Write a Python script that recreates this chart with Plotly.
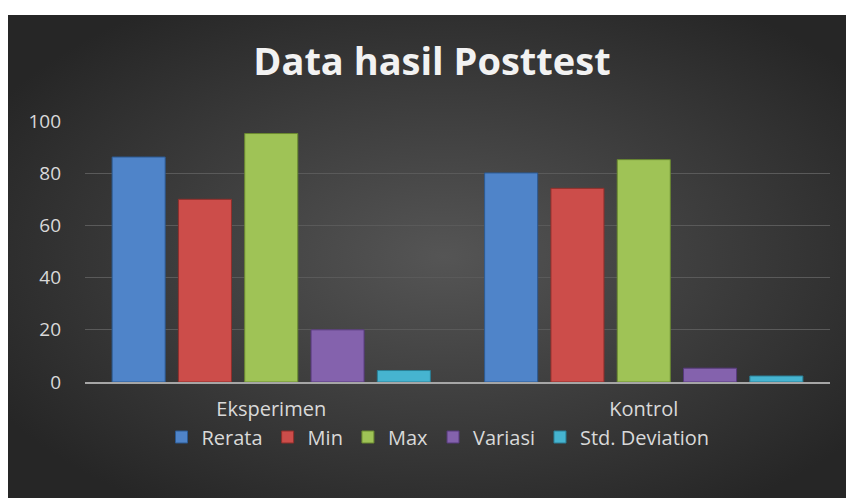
import base64
import plotly.graph_objects as go

categories = ["Eksperimen", "Kontrol"]
series_names = ["Rerata", "Min", "Max", "Variasi", "Std. Deviation"]
rerata = [86.2, 80.1]
min_vals = [70.0, 74.2]
max_vals = [95.2, 85.2]
variasi = [20.0, 5.3]
std_dev = [4.4, 2.3]
series_values = [rerata, min_vals, max_vals, variasi, std_dev]
colors = ["#4f84c9", "#cc4d4a", "#9fc356", "#8462ad", "#46b4d0"]
edge_colors = ["#2c5a92", "#8e2f2b", "#6a8a30", "#573a7c", "#2a7f96"]
y_ticks = [0, 20, 40, 60, 80, 100]

W, H = 846, 498
L, R, T, B = 85, 16, 121, 116
pw, ph = W - L - R, H - T - B
BX, BY = 8, 15  # where the dark chart area starts

svg = (
    '<svg xmlns="http://www.w3.org/2000/svg" width="838" height="483" '
    'viewBox="0 0 838 483" preserveAspectRatio="none">'
    '<defs><radialGradient id="g" cx="52%" cy="50%" r="62%">'
    '<stop offset="0%" stop-color="#555555"/>'
    '<stop offset="100%" stop-color="#262626"/>'
    '</radialGradient></defs>'
    '<rect width="838" height="483" fill="url(#g)"/></svg>'
)
bg_uri = "data:image/svg+xml;base64," + base64.b64encode(svg.encode()).decode()

fig = go.Figure()
for name, vals, c, ec in zip(series_names, series_values, colors, edge_colors):
    fig.add_trace(go.Bar(
        name=name, x=categories, y=vals,
        marker=dict(color=c, line=dict(color=ec, width=1)),
    ))

fig.update_layout(
    width=W, height=H,
    margin=dict(l=L, r=R, t=T, b=B),
    paper_bgcolor="white",
    plot_bgcolor="rgba(0,0,0,0)",
    barmode="group",
    bargap=0.11,
    bargroupgap=0.2,
    title=dict(
        text="<b>Data hasil Posttest</b>",
        x=(432 - L) / pw, xref="paper", xanchor="center",
        y=1 - 62 / H, yref="container", yanchor="middle",
        font=dict(family="Open Sans", size=38, color="#f2f2f2"),
    ),
    font=dict(family="Open Sans", color="#d9d9d9"),
    xaxis=dict(
        showgrid=False, showline=True, linecolor="#a6a6a6", linewidth=2,
        tickfont=dict(size=20, color="#d9d9d9"), ticks="",
        ticklabelstandoff=8,
    ),
    yaxis=dict(
        range=[0, 100], tickvals=y_ticks, showgrid=True,
        gridcolor="#5a5a5a", gridwidth=1, zeroline=False,
        tickfont=dict(size=19, color="#d9d9d9"), ticks="",
        ticklabelstandoff=23,
    ),
    legend=dict(
        orientation="h", x=(438 - L) / pw, xanchor="center",
        y=(ph - (437 - T)) / ph, yanchor="middle",
        font=dict(size=20, color="#d9d9d9"),
        bgcolor="rgba(0,0,0,0)", itemwidth=30, tracegroupgap=0,
    ),
    images=[dict(
        source=bg_uri, xref="paper", yref="paper",
        x=(BX - L) / pw, y=1 + (T - BY) / ph,
        sizex=(W - BX) / pw, sizey=(H - BY) / ph,
        xanchor="left", yanchor="top", sizing="stretch", layer="below",
    )],
)

fig.write_html(
    "out.html",
    config={"displayModeBar": False},
    post_script="document.body.style.margin='0';document.body.style.overflow='hidden';",
)
